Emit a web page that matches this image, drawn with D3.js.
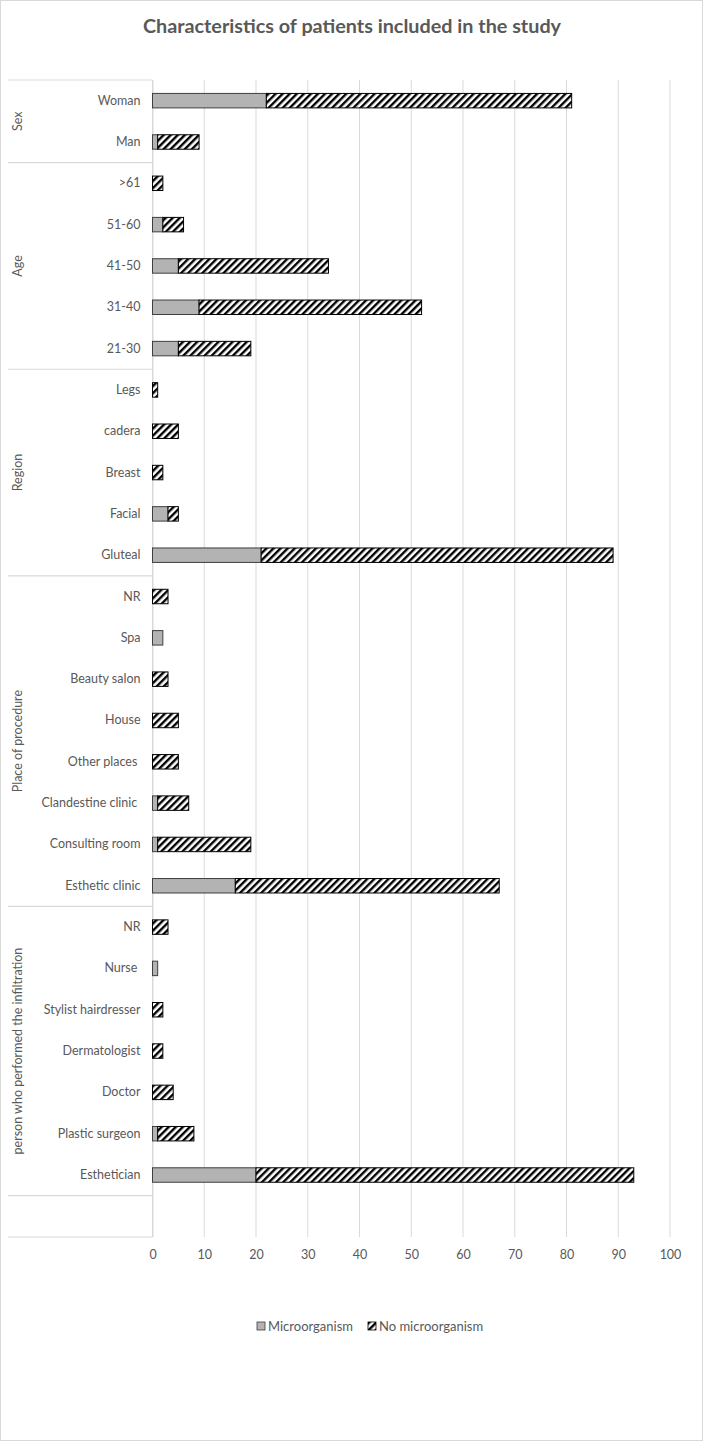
<!DOCTYPE html>
<html>
<head>
<meta charset="utf-8">
<script src="https://cdn.jsdelivr.net/npm/d3@7"></script>
<style>
  html, body { margin: 0; padding: 0; background: #fff; }
  svg { display: block; font-family: Lato, "Open Sans", "Liberation Sans", sans-serif; }
</style>
</head>
<body>
<svg id="chart" width="703" height="1441"></svg>
<script>
// ---- data (top to bottom as displayed) ----
const categories = ["Woman","Man",
  ">61","51-60","41-50","31-40","21-30",
  "Legs","cadera","Breast","Facial","Gluteal",
  "NR","Spa","Beauty salon","House","Other places ","Clandestine clinic ","Consulting room","Esthetic clinic",
  "NR","Nurse ","Stylist hairdresser","Dermatologist","Doctor","Plastic surgeon","Esthetician",
  ""];
const microorganism   = [22,1, 0,2,5,9,5, 0,0,0,3,21, 0,2,0,0,0,1,1,16, 0,1,0,0,0,1,20, 0];
const noMicroorganism = [59,8, 2,4,29,43,14, 1,5,2,2,68, 3,0,3,5,5,6,18,51, 3,0,2,2,4,7,73, 0];
const groups = ["Sex","Age","Region","Place of procedure","person who performed the infiltration",""];
const groupSizes = [2,5,5,8,7,1];
const xTicks = [0,10,20,30,40,50,60,70,80,90,100];
const seriesNames = ["Microorganism","No microorganism"];

const svg = d3.select("#chart");
const W = 703, H = 1441;
const textGray = "#595959";

// outer border
svg.append("rect").attr("x",0.5).attr("y",0.5).attr("width",W-1).attr("height",H-1)
  .attr("fill","#fff").attr("stroke","#d9d9d9");

// hatch pattern
const defs = svg.append("defs");
const pat = defs.append("pattern").attr("id","hatch").attr("patternUnits","userSpaceOnUse")
  .attr("width",5).attr("height",5).attr("patternTransform","rotate(45)");
pat.append("rect").attr("width",5).attr("height",5).attr("fill","#fff");
pat.append("rect").attr("x",0).attr("width",2.4).attr("height",5).attr("fill","#000");

const plotTop = 80, plotBottom = 1237, plotLeft = 152.5, plotRight = 670;
const x = d3.scaleLinear().domain([0,100]).range([plotLeft, plotRight]);
const idx = categories.map((d,i)=>i);
const y = d3.scaleBand().domain(idx).range([plotTop, plotBottom]).paddingInner(0.65).paddingOuter(0.325);
const step = y.step();

// title
svg.append("text").attr("x",352).attr("y",33).attr("text-anchor","middle")
  .attr("font-size",19.8).attr("font-weight","bold").attr("fill",textGray)
  .text("Characteristics of patients included in the study");

// gridlines
svg.append("g").selectAll("line").data(xTicks).join("line")
  .attr("x1",d=>x(d)).attr("x2",d=>x(d)).attr("y1",plotTop).attr("y2",plotBottom)
  .attr("stroke","#d9d9d9").attr("stroke-width",1);

// x axis labels
const xAxis = d3.axisBottom(x).tickValues(xTicks).tickSize(0).tickPadding(0);
const gx = svg.append("g").attr("transform",`translate(0,${plotBottom+18})`).call(xAxis);
gx.select(".domain").remove();
gx.selectAll("text").attr("font-size",12.5).attr("fill",textGray).attr("font-family","Lato, 'Open Sans', sans-serif").attr("dy","0.32em");

// group separators and labels
let cum = 0;
const bounds = [0];
groupSizes.forEach(s=>{ cum += s; bounds.push(cum); });
svg.append("g").selectAll("line").data(bounds).join("line")
  .attr("x1",8).attr("x2",plotLeft).attr("y1",d=>plotTop + d*step).attr("y2",d=>plotTop + d*step)
  .attr("stroke","#d9d9d9").attr("stroke-width",1.2);
svg.append("g").selectAll("text").data(groups).join("text")
  .attr("transform",(d,i)=>{
    const cy = plotTop + (bounds[i]+bounds[i+1])/2*step;
    return `translate(22,${cy}) rotate(-90)`;
  })
  .attr("text-anchor","middle").attr("font-size",12.5).attr("fill",textGray)
  .text(d=>d);

// category axis
const yAxis = d3.axisLeft(y).tickFormat(i=>categories[i]).tickSize(0).tickPadding(12);
const gy = svg.append("g").attr("transform",`translate(${plotLeft},0)`).call(yAxis);
gy.select(".domain").attr("stroke","#d9d9d9");
gy.selectAll("text").attr("font-size",12.5).attr("fill",textGray)
  .attr("font-family","Lato, 'Open Sans', sans-serif").style("white-space","pre");

// bars
const gb = svg.append("g");
gb.selectAll("rect.m").data(idx.filter(i=>microorganism[i]>0)).join("rect")
  .attr("class","m")
  .attr("x",i=>x(0)).attr("y",i=>y(i))
  .attr("width",i=>x(microorganism[i])-x(0)).attr("height",y.bandwidth())
  .attr("fill","#b3b3b3").attr("stroke","#3f3f3f").attr("stroke-width",1);
gb.selectAll("rect.n").data(idx.filter(i=>noMicroorganism[i]>0)).join("rect")
  .attr("class","n")
  .attr("x",i=>x(microorganism[i])).attr("y",i=>y(i))
  .attr("width",i=>x(microorganism[i]+noMicroorganism[i])-x(microorganism[i])).attr("height",y.bandwidth())
  .attr("fill","url(#hatch)").attr("stroke","#000").attr("stroke-width",1);

// legend
const legend = svg.append("g");
const items = [
  {name: seriesNames[0], fill:"#b3b3b3", stroke:"#3f3f3f", sx:257, tx:268},
  {name: seriesNames[1], fill:"url(#hatch)", stroke:"#000", sx:368, tx:379}
];
items.forEach(it=>{
  legend.append("rect").attr("x",it.sx).attr("y",1322).attr("width",8).attr("height",8)
    .attr("fill",it.fill).attr("stroke",it.stroke).attr("stroke-width",0.8);
  legend.append("text").attr("x",it.tx).attr("y",1326).attr("dy","0.35em")
    .attr("font-size",13).attr("fill",textGray).text(it.name);
});
</script>
</body>
</html>
